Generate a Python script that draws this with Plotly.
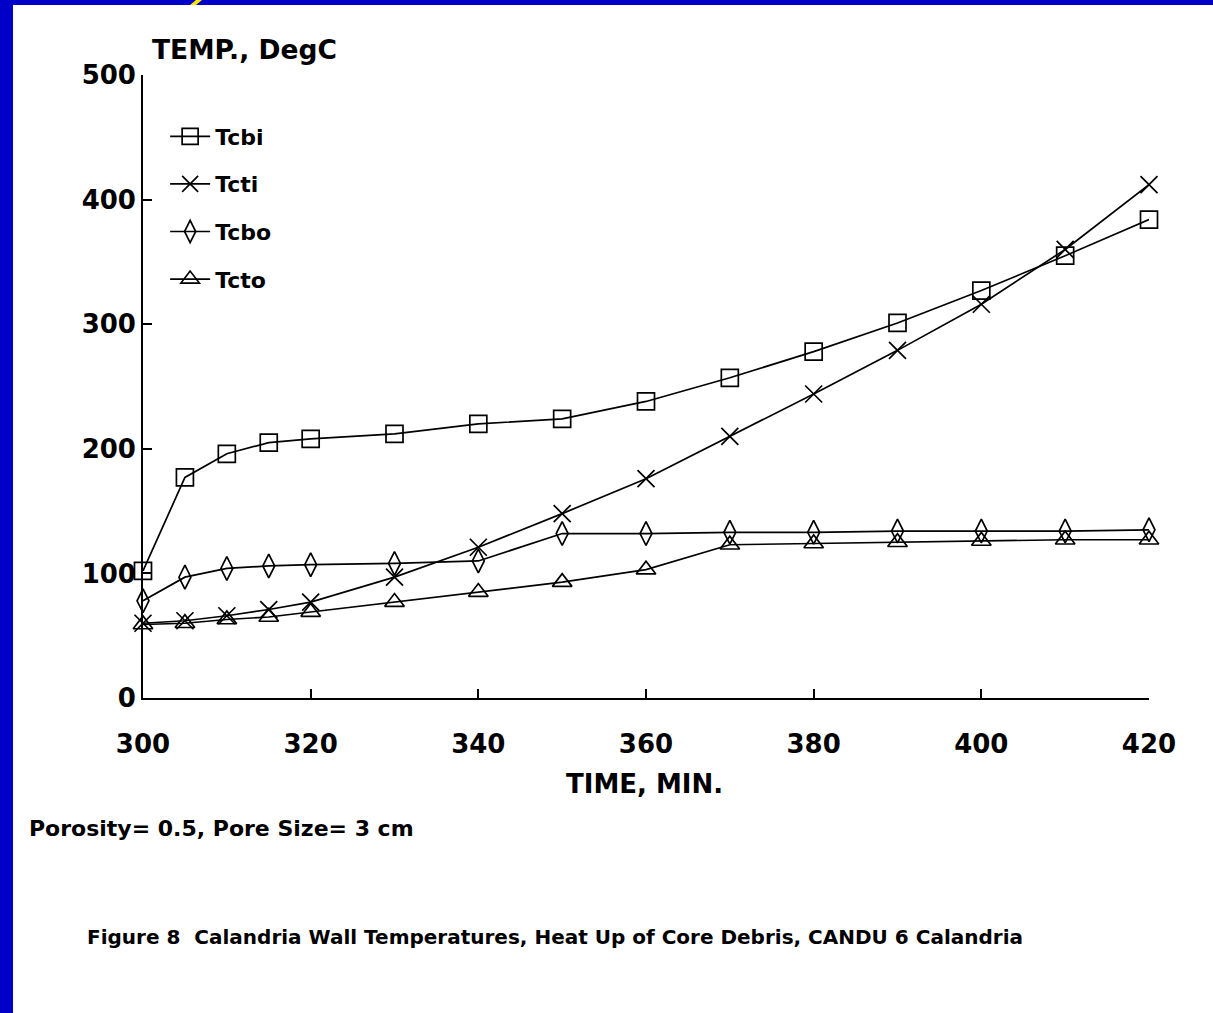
import plotly.graph_objects as go

time_min = [300, 305, 310, 315, 320, 330, 340, 350, 360, 370, 380, 390, 400, 410, 420]
tcbi = [102, 177, 196, 205, 208, 212, 220, 224, 238, 257, 278, 301, 327, 355, 384]
tcti = [60, 62, 66, 71, 77, 97, 121, 148, 176, 210, 244, 279, 316, 360, 412]
tcbo = [78, 97, 104, 106, 107, 108, 110, 132, 132, 133, 133, 134, 134, 134, 135]
tcto = [59, 60, 63, 65, 69, 77, 85, 93, 103, 123, 124, 125, 126, 127, 127]

series = [
    ("Tcbi", tcbi, "square-open"),
    ("Tcti", tcti, "x-thin-open"),
    ("Tcbo", tcbo, "diamond-tall-open"),
    ("Tcto", tcto, "triangle-up-open"),
]

x_ticks = [300, 320, 340, 360, 380, 400, 420]
y_ticks = [0, 100, 200, 300, 400, 500]

FONT = "DejaVu Sans, Liberation Sans, Arial, sans-serif"

fig = go.Figure()
for name, vals, sym in series:
    fig.add_trace(go.Scatter(
        x=time_min, y=vals, name=name, mode="lines+markers",
        line=dict(color="black", width=1.7),
        marker=dict(symbol=sym, size=17, color="black",
                    line=dict(color="black", width=1.7)),
        cliponaxis=False, legendgroup=name,
    ))

fig.update_layout(
    width=1213, height=1013,
    paper_bgcolor="white", plot_bgcolor="white",
    margin=dict(l=143, r=64, t=75, b=315),
    showlegend=True,
    legend=dict(x=0.022, y=0.935, xanchor="left", yanchor="top",
                bgcolor="rgba(0,0,0,0)", tracegroupgap=16,
                font=dict(family=FONT, size=22, color="black", weight="bold"),
                itemwidth=40),
    font=dict(family=FONT, color="black"),
)

fig.update_xaxes(
    range=[300, 420], tickvals=x_ticks, ticktext=[str(v) for v in x_ticks],
    showline=True, linecolor="black", linewidth=1.7, mirror=False,
    ticks="inside", ticklen=9, tickwidth=1.7, tickcolor="black",
    showgrid=False, zeroline=False, ticklabelstandoff=22,
    tickfont=dict(family=FONT, size=26, color="black", weight="bold"),
)
fig.update_yaxes(
    range=[0, 500], tickvals=y_ticks, ticktext=[str(v) for v in y_ticks],
    showline=True, linecolor="black", linewidth=1.7, mirror=False,
    ticks="inside", ticklen=9, tickwidth=1.7, tickcolor="black",
    showgrid=False, zeroline=False, ticklabelstandoff=0,
    tickfont=dict(family=FONT, size=26, color="black", weight="bold"),
)

annos = [
    dict(text="TEMP., DegC", x=0.007, y=1 + 26 / 623, xanchor="left", yanchor="middle", size=26.5),
    dict(text="TIME, MIN.", x=0.499, y=-86 / 623, xanchor="center", yanchor="middle", size=26),
    dict(text="Porosity= 0.5, Pore Size= 3 cm", x=-116 / 1006, y=-130 / 623,
         xanchor="left", yanchor="middle", size=22),
    dict(text="Figure 8  Calandria Wall Temperatures, Heat Up of Core Debris, CANDU 6 Calandria",
         x=-58 / 1006, y=-239 / 623, xanchor="left", yanchor="middle", size=20),
]
for a in annos:
    fig.add_annotation(text=a["text"], x=a["x"], y=a["y"], xref="paper", yref="paper",
                       xanchor=a["xanchor"], yanchor=a["yanchor"], showarrow=False,
                       font=dict(family=FONT, size=a["size"], color="black", weight="bold"))

# slide border (blue band on the left and top) and small yellow mark
BLUE = "#0000c8"
fig.add_shape(type="rect", xref="paper", yref="paper", x0=-143 / 1006, x1=-130 / 1006,
              y0=-315 / 623, y1=1 + 75 / 623, fillcolor=BLUE, line=dict(width=0), layer="above")
fig.add_shape(type="rect", xref="paper", yref="paper", x0=-143 / 1006, x1=1 + 64 / 1006,
              y0=1 + 70 / 623, y1=1 + 75 / 623, fillcolor=BLUE, line=dict(width=0), layer="above")
fig.add_shape(type="path", xref="paper", yref="paper",
              path=f"M {(190-143)/1006} {1+70/623} L {(196-143)/1006} {1+75/623} L {(202-143)/1006} {1+75/623} L {(196-143)/1006} {1+70/623} Z",
              fillcolor="#ffe800", line=dict(width=0), layer="above")

fig.write_html("out.html", config={"displayModeBar": False},
               post_script="document.body.style.margin='0';document.body.style.overflow='hidden';")
